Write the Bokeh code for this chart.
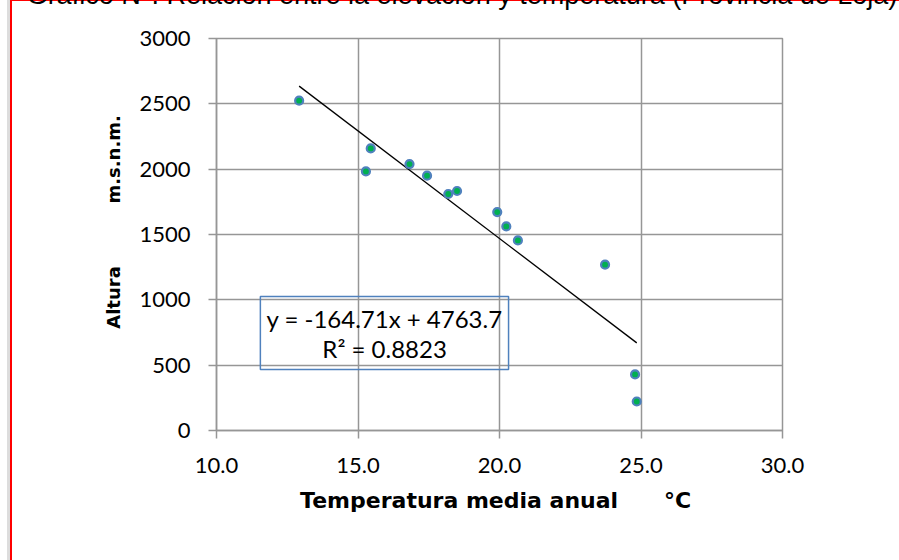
import numpy as np
from bokeh.plotting import figure
from bokeh.models import Label, BoxAnnotation, FixedTicker, Range1d, LinearAxis
from bokeh.embed import file_html
from bokeh.resources import INLINE

# ---- data ----
temperatura = [12.92, 15.45, 15.28, 16.82, 17.44, 18.19, 18.50, 19.92, 20.24, 20.65, 23.73, 24.79, 24.85]
altura = [2524, 2159, 1983, 2039, 1950, 1810, 1833, 1672, 1562, 1455, 1269, 429, 222]
pendiente = -164.71
intercepto = 4763.7
r2 = 0.8823
x_ticks = [10, 15, 20, 25, 30]
x_tick_labels = ["10.0", "15.0", "20.0", "25.0", "30.0"]
y_ticks = [0, 500, 1000, 1500, 2000, 2500, 3000]
titulo = "Gráfico N°. Relación entre la elevación y temperatura (Provincia de Loja)"
x_titulo = "Temperatura media anual"
x_unidad = "°C"
y_titulo_a = "Altura"
y_titulo_b = "m.s.n.m."

NB = "\u00a0"
GRID = "#969696"
SHIFT = 24   # canvas rows pushed above the window (title is cut, as in the source)
LINE_Y = 23  # red frame line, element coordinates

red = "linear-gradient(#ff0000,#ff0000)"
shadow = "linear-gradient(#dddddd,#dddddd)"
bg = (f"{red} 10px {LINE_Y}px / 2px 3000px no-repeat, "
      f"{red} 10px {LINE_Y}px / 3000px 2px no-repeat, "
      f"{shadow} 7px {LINE_Y + 1}px / 3px 3000px no-repeat, #ffffff")

p = figure(frame_width=566, frame_height=392, output_backend="svg", toolbar_location=None,
           x_range=Range1d(10, 30), y_range=Range1d(0, 3000),
           min_border_left=216, min_border_right=117, min_border_top=0, min_border_bottom=140,
           margin=(-SHIFT, 0, 0, 0), styles={"background": bg})
p.background_fill_color = "white"
p.border_fill_color = None
p.outline_line_color = GRID
p.outline_line_width = 1.5

p.xaxis.ticker = FixedTicker(ticks=x_ticks)
p.yaxis.ticker = FixedTicker(ticks=y_ticks)
p.xaxis.major_label_overrides = {t: l for t, l in zip(x_ticks, x_tick_labels)}
for ax in (p.xaxis, p.yaxis):
    ax.axis_line_color = GRID
    ax.axis_line_width = 1.5
    ax.major_tick_line_color = GRID
    ax.major_tick_line_width = 1.5
    ax.minor_tick_line_color = None
    ax.major_tick_in = 0
    ax.major_tick_out = 8
    ax.major_label_text_font = "Lato"
    ax.major_label_text_font_size = "22px"
    ax.major_label_text_color = "black"
    ax.axis_label_text_font = "DejaVu Sans"
    ax.axis_label_text_font_style = "bold"
    ax.axis_label_text_color = "black"
p.xaxis.major_label_standoff = 19
p.yaxis.major_label_standoff = 18

p.xaxis.axis_label = x_titulo + NB * 6 + x_unidad + NB
p.xaxis.axis_label_text_font_size = "22px"
p.xaxis.axis_label_standoff = 12
p.yaxis.axis_label = NB * 4 + y_titulo_a + NB * 10 + y_titulo_b
p.yaxis.axis_label_text_font_size = "18px"
p.yaxis.axis_label_standoff = 12

# title (cut by the top edge, as in the source)
top = LinearAxis(ticker=FixedTicker(ticks=[]), axis_line_color=None, major_tick_line_color=None,
                 minor_tick_line_color=None, major_tick_in=0, major_tick_out=0, minor_tick_in=0,
                 minor_tick_out=0, major_label_standoff=0, major_label_text_font_size="0px",
                 axis_label=titulo + NB * 10, axis_label_standoff=29,
                 axis_label_text_font="Liberation Sans", axis_label_text_font_style="normal",
                 axis_label_text_font_size="27px", axis_label_text_color="black")
p.add_layout(top, "above")

p.xgrid.ticker = FixedTicker(ticks=x_ticks)
p.ygrid.ticker = FixedTicker(ticks=y_ticks)
p.grid.grid_line_color = GRID
p.grid.grid_line_width = 1.5

# trend line from the stated regression
xt = np.array([min(temperatura), max(temperatura)])
p.line(xt, pendiente * xt + intercepto, line_color="black", line_width=1.3)

p.scatter(temperatura, altura, size=8, fill_color="#00b050", line_color="#4f81bd", line_width=2.2)

# equation box
p.add_layout(BoxAnnotation(left=11.55, right=20.32, top=1026, bottom=467,
                           fill_alpha=0, line_color="#4f81bd", line_alpha=1.0, line_width=1.5))
p.add_layout(Label(x=15.94, y=857, text=f"y = {pendiente}x + {intercepto}",
                   text_align="center", text_baseline="middle",
                   text_font="Lato", text_font_size="24px", text_color="black"))
p.add_layout(Label(x=15.94, y=624, text=f"R² = {r2}",
                   text_align="center", text_baseline="middle",
                   text_font="Lato", text_font_size="24px", text_color="black"))

open("out.html", "w").write(file_html(p, INLINE))
